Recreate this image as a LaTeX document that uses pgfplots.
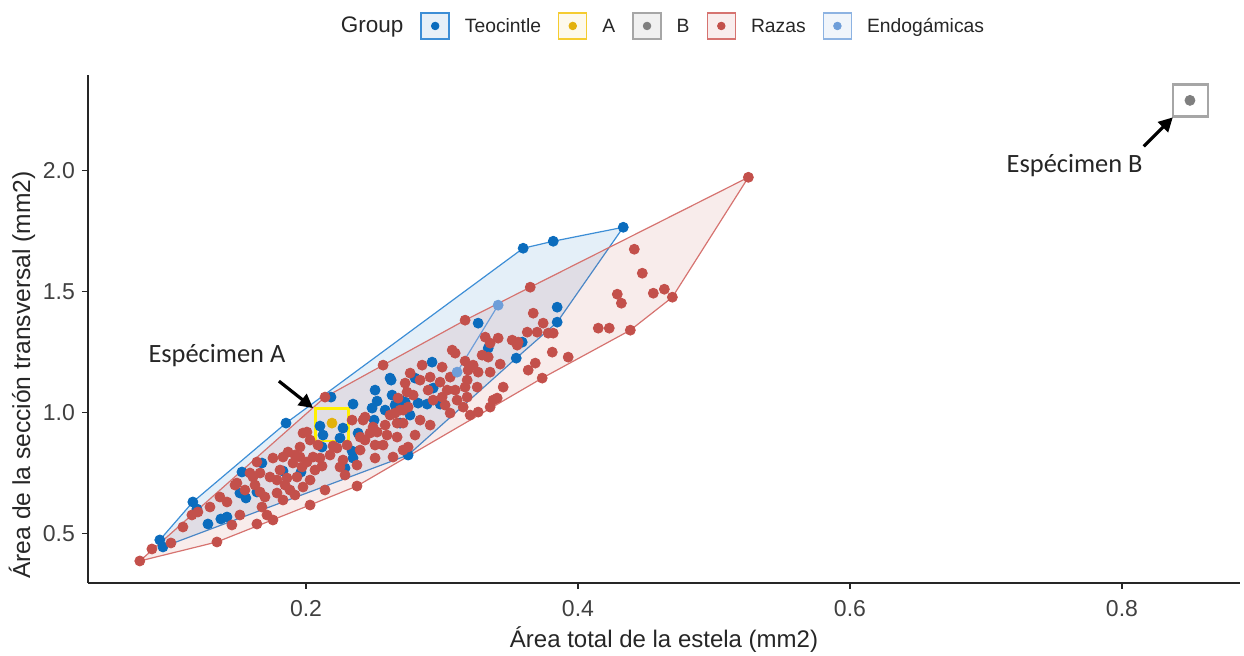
\documentclass[border=0pt]{standalone}
\usepackage{pgfplots}
\pgfplotsset{compat=1.18}
\usepackage{fontspec}
\setmainfont{Liberation Sans}
\newfontfamily\calibri{Carlito}
\usetikzlibrary{arrows.meta}
\definecolor{tblue}{HTML}{0B6CBD}
\definecolor{tblueL}{HTML}{3D8ED6}
\definecolor{rred}{HTML}{C3504B}
\definecolor{rredL}{HTML}{D67370}
\definecolor{agold}{HTML}{E3B10C}
\definecolor{agoldL}{HTML}{F5CC30}
\definecolor{bgray}{HTML}{7F7F7F}
\definecolor{bgrayL}{HTML}{A6A6A6}
\definecolor{eblue}{HTML}{6E9ED9}
\definecolor{eblueL}{HTML}{8DB3E2}
\definecolor{ybox}{HTML}{FFF000}
\begin{document}
\begin{tikzpicture}
\useasboundingbox (-44pt,-36.5pt) rectangle (578pt,291.5pt);
\begin{axis}[
 at={(0,0)}, anchor=south west,
 scale only axis, width=576pt, height=254pt,
 xmin=0.0397, xmax=0.8868, ymin=0.2946, ymax=2.394,
 axis lines=left, axis line style={-, line width=0.7pt, color=black!85},
 xtick={0.2,0.4,0.6,0.8}, xticklabels={0.2,0.4,0.6,0.8},
 ytick={0.5,1,1.5,2}, yticklabels={0.5,1.0,1.5,2.0},
 tick align=outside, major tick length=3pt,
 tick style={line width=0.7pt, color=black!85},
 ticklabel style={font=\fontsize{11.5}{13}\selectfont, color=black!75},
 xticklabel style={yshift=-2pt},
 xlabel={Área total de la estela (mm2)},
 ylabel={Área de la sección transversal (mm2)},
 every axis x label/.style={at={(axis description cs:0.5,-0.1122)}, anchor=center, font=\fontsize{12}{14}\selectfont, text=black!85},
 every axis y label/.style={at={(axis description cs:-0.0573,0.4094)}, anchor=center, rotate=90, font=\fontsize{12.3}{14}\selectfont, text=black!85},
 legend columns=-1,
 legend style={at={(0.4922,1.0965)}, anchor=center, draw=none, fill=none,
   inner sep=0pt, outer sep=0pt, text=black!85,
   font=\fontsize{9.65}{11.5}\selectfont,
   nodes={inner sep=0pt, anchor=base west},
   /tikz/every odd column/.append style={column sep=7.5pt},
   /tikz/every even column/.append style={column sep=8.5pt}},
]
\addlegendimage{legend image code/.code={}}
\addlegendentry{\fontsize{11.25}{13}\selectfont Group}
\addlegendimage{legend image code/.code={\draw[draw=tblueL, fill=tblue!10, line width=0.7pt] (0pt,-3.1pt) rectangle (14pt,9.9pt); \fill[tblue] (7pt,3.4pt) circle (1.9pt);}}
\addlegendentry{Teocintle}
\addlegendimage{legend image code/.code={\draw[draw=agoldL, fill=agold!8, line width=0.7pt] (0pt,-3.1pt) rectangle (14pt,9.9pt); \fill[agold] (7pt,3.4pt) circle (1.9pt);}}
\addlegendentry{A}
\addlegendimage{legend image code/.code={\draw[draw=bgrayL, fill=bgray!12, line width=0.7pt] (0pt,-3.1pt) rectangle (14pt,9.9pt); \fill[bgray] (7pt,3.4pt) circle (1.9pt);}}
\addlegendentry{B}
\addlegendimage{legend image code/.code={\draw[draw=rredL, fill=rred!10, line width=0.7pt] (0pt,-3.1pt) rectangle (14pt,9.9pt); \fill[rred] (7pt,3.4pt) circle (1.9pt);}}
\addlegendentry{Razas}
\addlegendimage{legend image code/.code={\draw[draw=eblueL, fill=eblue!10, line width=0.7pt] (0pt,-3.1pt) rectangle (14pt,9.9pt); \fill[eblue] (7pt,3.4pt) circle (1.9pt);}}
\addlegendentry{Endogámicas}

% hulls
\addplot[forget plot, fill=tblue, fill opacity=0.11, draw=tblueL, line width=0.6pt] coordinates {
(0.0925,0.4724) (0.1168,0.6293) (0.1853,0.9554) (0.3597,1.6780) (0.3818,1.7069) (0.4333,1.7647) (0.3847,1.3725) (0.3546,1.2238) (0.2751,0.8233) (0.0948,0.4435)} --cycle;
\addplot[forget plot, fill=rred, fill opacity=0.11, draw=rredL, line width=0.6pt] coordinates {
(0.0778,0.3856) (0.1345,0.4641) (0.2030,0.6169) (0.2375,0.6953) (0.3737,1.1413) (0.4385,1.3394) (0.4694,1.4757) (0.5253,1.9712) (0.3649,1.5170) (0.3170,1.3807) (0.2567,1.1949) (0.2140,1.0628)} --cycle;
\addplot[forget plot, draw=eblue, line width=0.6pt] coordinates {(0.3413,1.4427) (0.3111,1.1660)};

% Teocintle
\addplot[forget plot, only marks, mark=*, mark size=2.5pt, color=tblue] coordinates {
(0.0925,0.4724) (0.0948,0.4435) (0.1168,0.6293) (0.1198,0.6004) (0.1279,0.5384) (0.1374,0.5591) (0.1419,0.5673) (0.1529,0.7531) (0.1514,0.6664) (0.1558,0.6458)
(0.1639,0.6705) (0.1676,0.7903) (0.1831,0.7573) (0.1963,0.7531) (0.1853,0.9554) (0.2118,0.8564) (0.2103,0.9431) (0.2125,0.9059) (0.2272,0.9348) (0.2250,0.8935)
(0.2184,1.0628) (0.2346,1.0339) (0.2287,0.7696) (0.2339,0.8398) (0.2346,0.8109) (0.2508,1.0917) (0.2523,1.0463) (0.2501,0.9678) (0.2486,1.0174) (0.2383,0.9142)
(0.2618,1.1413) (0.2633,1.0711) (0.2655,1.0298) (0.2582,1.0091) (0.2692,0.9554) (0.2729,1.0422) (0.3266,1.3684) (0.3340,1.2651) (0.3590,1.2899) (0.3546,1.2238)
(0.3847,1.4344) (0.3847,1.3725) (0.2927,1.2073) (0.2626,1.1330) (0.2802,1.1413) (0.2935,1.1000) (0.2824,1.0380) (0.2891,1.0339) (0.2986,1.0339) (0.2765,0.9885)
(0.3597,1.6780) (0.3818,1.7069) (0.4333,1.7647) (0.2751,0.8233) (0.2692,1.0504)};

% Razas
\addplot[forget plot, only marks, mark=*, mark size=2.5pt, color=rred] coordinates {
(0.0778,0.3856) (0.0867,0.4352) (0.1007,0.4600) (0.1345,0.4641) (0.1639,0.5384) (0.2030,0.6169) (0.2140,0.6788) (0.2375,0.6953) (0.1161,0.5756) (0.1294,0.6086)
(0.1367,0.6499) (0.1419,0.6293) (0.1492,0.7077) (0.1588,0.7490) (0.1639,0.7944) (0.1698,0.6499) (0.1735,0.7325) (0.1787,0.7201) (0.1860,0.7284) (0.1904,0.7903)
(0.1956,0.8564) (0.1978,0.9142) (0.1757,0.8109) (0.1831,0.8151) (0.1882,0.6788) (0.1978,0.6912) (0.1713,0.5756) (0.1676,0.6086) (0.1757,0.5549) (0.2007,0.7944)
(0.1934,0.7325) (0.1809,0.7614) (0.2030,0.7201) (0.1205,0.5880) (0.1478,0.6994) (0.1610,0.7325) (0.1787,0.6664) (0.2007,0.9183) (0.1868,0.8357) (0.2052,0.8151)
(0.1956,0.8151) (0.2103,0.8109) (0.2228,0.8522) (0.2272,0.8027) (0.2250,0.7738) (0.2398,0.8440) (0.2434,0.8853) (0.2471,0.9142) (0.2420,0.9678) (0.2508,0.8109)
(0.2339,0.9678) (0.2493,0.9389) (0.2140,1.0628) (0.2567,1.1949) (0.2398,0.8976) (0.2523,0.9183) (0.2618,0.9885) (0.2670,0.9554) (0.2714,0.9554) (0.2596,0.9059)
(0.2508,0.8646) (0.2567,0.8646) (0.2670,0.8976) (0.2714,0.8440) (0.2302,0.8646) (0.1919,0.8233) (0.1971,0.7738) (0.2118,0.7779) (0.1662,0.7490) (0.2677,1.0587)
(0.2729,1.1206) (0.2714,1.0091) (0.2434,0.9802) (0.2640,0.8151) (0.2751,0.8564) (0.3649,1.5170) (0.3671,1.4096) (0.3170,1.3807) (0.3318,1.3106) (0.3413,1.3064)
(0.3354,1.2858) (0.3627,1.3312) (0.3560,1.2899) (0.3700,1.3312) (0.3781,1.3271) (0.3818,1.3271) (0.3516,1.2982) (0.3811,1.2486) (0.3075,1.2569) (0.3295,1.2362)
(0.3340,1.2280) (0.3229,1.1949) (0.2854,1.1949) (0.3192,1.1743) (0.3354,1.1660) (0.3266,1.1660) (0.3060,1.1454) (0.2986,1.1247) (0.3185,1.1330) (0.3170,1.1041)
(0.3097,1.0917) (0.2839,1.1330) (0.2766,1.1619) (0.2913,1.1454) (0.2898,1.0917) (0.3038,1.0917) (0.3001,1.0628) (0.3111,1.0504) (0.2935,1.0504) (0.2743,1.0835)
(0.2751,1.0215) (0.2692,1.0091) (0.3156,1.0215) (0.3185,1.0628) (0.3259,1.1041) (0.3686,1.2032) (0.3634,1.1743) (0.3737,1.1413) (0.3450,1.1041) (0.3406,1.0587)
(0.3354,1.0215) (0.3266,1.0009) (0.3207,0.9885) (0.3060,0.9967) (0.4414,1.6739) (0.4473,1.5748) (0.4289,1.4881) (0.4319,1.4509) (0.4554,1.4922) (0.4635,1.5087)
(0.4694,1.4757) (0.4149,1.3477) (0.4230,1.3477) (0.4385,1.3394) (0.3928,1.2280) (0.3744,1.3684) (0.3553,1.2775) (0.3428,1.1991) (0.3376,1.0504) (0.3001,1.1867)
(0.3023,1.0298) (0.2788,1.0711) (0.3170,1.2115) (0.3097,1.2445) (0.1551,0.6788) (0.1625,0.6994) (0.1846,0.6994) (0.2066,0.7614) (0.2088,0.8646) (0.2177,0.8233)
(0.2199,0.8610) (0.2030,0.8853) (0.2375,0.7820) (0.2582,0.9472) (0.2655,0.9967) (0.1095,0.5260)
(0.1514,0.5756) (0.1455,0.5343) (0.5253,1.9712) (0.1662,0.6705) (0.1831,0.6375) (0.1919,0.6582) (0.2287,0.7407) (0.2839,0.9678) (0.2913,0.9472) (0.2802,0.9059)};

% Endogamicas, A, B
\addplot[forget plot, only marks, mark=*, mark size=2.5pt, color=eblue] coordinates {(0.3413,1.4427) (0.3111,1.1660)};
\addplot[forget plot, only marks, mark=*, mark size=2.5pt, color=agold] coordinates {(0.2191,0.9554)};
\addplot[forget plot, only marks, mark=*, mark size=2.5pt, color=bgray] coordinates {(0.8500,2.2891)};

% annotations
\draw[draw=ybox, line width=1.4pt] (axis cs:0.2067,0.8811) rectangle (axis cs:0.2310,1.0173);
\draw[draw=bgrayL, line width=1.2pt] (axis cs:0.8374,2.2229) rectangle (axis cs:0.8632,2.3551);
\draw[line width=1.6pt, -{Triangle[length=7pt, width=7pt]}] (axis cs:0.1801,1.1288) -- (axis cs:0.2052,1.0173);
\draw[line width=1.6pt, -{Triangle[length=7pt, width=7pt]}] (axis cs:0.8160,2.0991) -- (axis cs:0.8374,2.2189);
\node[font=\calibri\fontsize{13.2}{15}\selectfont, text=black!85] at (axis cs:0.1345,1.2362) {Espécimen A};
\node[font=\calibri\fontsize{13.2}{15}\selectfont, text=black!85] at (axis cs:0.7652,2.0206) {Espécimen B};
\end{axis}
\end{tikzpicture}
\end{document}
